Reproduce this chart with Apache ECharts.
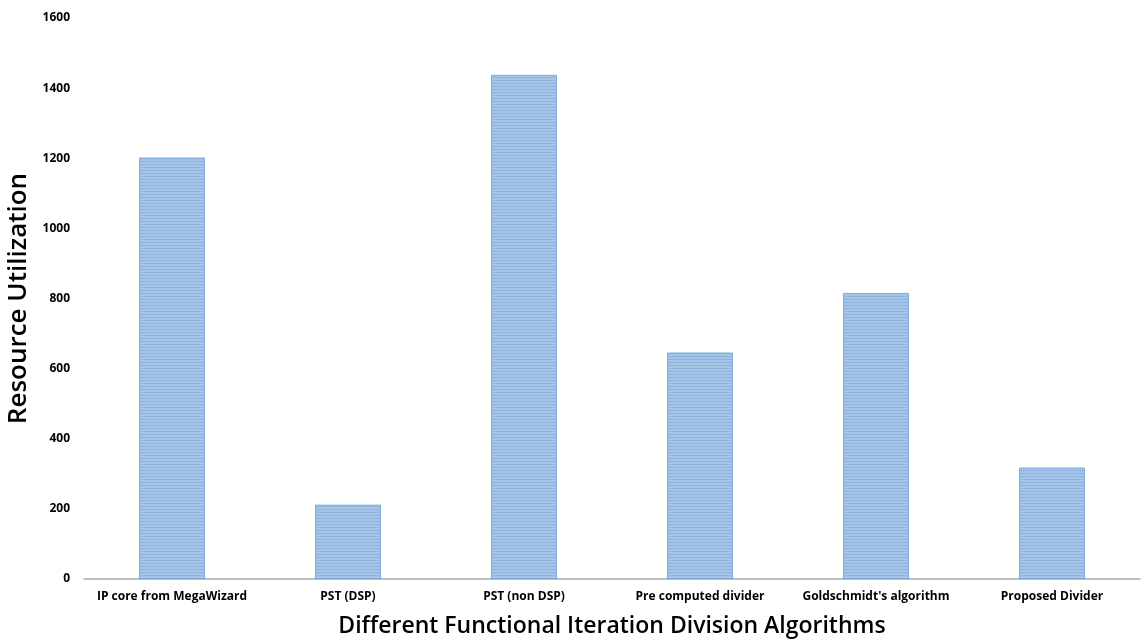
<!DOCTYPE html>
<html><head><meta charset="utf-8">
<script src="https://cdn.jsdelivr.net/npm/echarts@6/dist/echarts.min.js"></script>
<style>html,body{margin:0;padding:0;background:#fff}#c{width:1146px;height:644px}</style>
</head><body><div id="c"></div>
<script>
var categories = ["IP core from MegaWizard", "PST (DSP)", "PST (non DSP)", "Pre computed divider", "Goldschmidt's algorithm", "Proposed Divider"];
var values = [1202, 212, 1438, 646, 816, 318];
var yTicks = [0, 200, 400, 600, 800, 1000, 1200, 1400, 1600];

var pc = document.createElement('canvas');
pc.width = 4; pc.height = 3;
var g = pc.getContext('2d');
g.fillStyle = '#a4c5e7'; g.fillRect(0, 0, 4, 3);
g.fillStyle = '#8cb4df'; g.fillRect(0, 2, 4, 1);

var chart = echarts.init(document.getElementById('c'), null, {renderer: 'canvas'});
chart.setOption({
  backgroundColor: '#fff',
  animation: false,
  grid: {left: 84, right: 6, top: 18, bottom: 65, containLabel: false, outerBoundsMode: 'none'},
  xAxis: {
    type: 'category', data: categories,
    axisLine: {lineStyle: {color: '#a6a6a6', width: 1.5}},
    axisTick: {show: false},
    axisLabel: {interval: 0, color: '#000', fontWeight: 'bold', fontSize: 12, fontFamily: 'Open Sans', margin: 12},
    name: 'Different Functional Iteration Division Algorithms',
    nameLocation: 'middle', nameGap: 36,
    nameTextStyle: {color: '#000', fontSize: 23, fontWeight: 600, fontFamily: 'Open Sans'}
  },
  yAxis: {
    type: 'value', min: yTicks[0], max: yTicks[yTicks.length - 1], interval: 200,
    splitLine: {show: false},
    axisLine: {show: false}, axisTick: {show: false},
    axisLabel: {color: '#000', fontWeight: 'bold', fontSize: 12, fontFamily: 'Open Sans', margin: 14,
      formatter: function (v) { return String(v); }},
    name: 'Resource Utilization', nameLocation: 'middle', nameGap: 48,
    nameTextStyle: {color: '#000', fontSize: 26, fontWeight: 600, fontFamily: 'Open Sans'}
  },
  series: [{
    type: 'bar', data: values, barWidth: '37.5%',
    itemStyle: {color: {image: pc, repeat: 'repeat'}, borderColor: '#7fabdc', borderWidth: 1}
  }]
});
</script></body></html>
